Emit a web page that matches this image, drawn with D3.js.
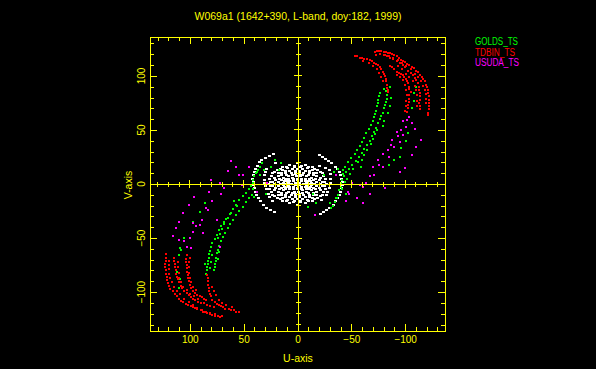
<!DOCTYPE html>
<html><head><meta charset="utf-8">
<script src="https://cdn.jsdelivr.net/npm/d3@7"></script>
<style>html,body{margin:0;padding:0;background:#000;} svg{display:block}</style>
</head><body><svg id="c" width="596" height="369"></svg>
<script>
const titleText = "W069a1 (1642+390, L-band, doy:182, 1999)";
const seriesNames = ["GOLDS_TS", "TDBIN_TS", "USUDA_TS"];
const seriesColors = ["#00ff00", "#ff0000", "#ff00ff"];
const uTicks = [100, 50, 0, -50, -100];
const vTicks = [100, 50, 0, -50, -100];
const minorTicks = [-130,-120,-110,-100,-90,-80,-70,-60,-50,-40,-30,-20,-10,0,10,20,30,40,50,60,70,80,90,100,110,120,130];

// white: short baselines near the origin
const shortBaselines = [
 [22,28],[26,26],[30,24],[33,22],[35,20],[37,17],[39,14],[40,11],[41,8],[42,5],[41,2],[41,-1],[40,-4],[39,-7],[38,-10],[36,-13],[34,-16],[32,-19],[29,-22],[25,-24],[21,-26],
 [-20,27],[-23,25],[-26,23],[-29,21],[-32,19],[-35,16],[-37,14],[-39,11],[-40,8],[-41,5],[-42,2],[-42,-1],[-41,-4],[-40,-7],[-39,-10],[-37,-13],[-35,-16],[-33,-19],[-30,-22],[-27,-24],[-24,-26],[-21,-28],
 [29,14],[30,11],[31,8],[31,4],[31,1],[30,-2],[29,-5],[27,-9],[26,-12],[23,-16],[-30,13],[-31,9],[-31,5],[-31,1],[-30,-4],[-28,-7],[-27,-10],[-22,-15],[20,19],[-20,17],[-26,15],
 [27,0],[26,5],[23,10],[19,13],[14,16],[7,18],[0,19],[-7,18],[-14,16],[-19,13],[-23,10],[-26,5],[-27,0],[-26,-5],[-23,-10],[-19,-13],[-14,-16],[-7,-18],[0,-19],[7,-18],[14,-16],[19,-13],[23,-10],[26,-5],
 [25,2],[24,7],[21,11],[16,14],[10,16],[3,17],[-4,17],[-10,16],[-16,14],[-21,11],[-24,7],[-25,2],[-25,-2],[-24,-7],[-21,-11],[-16,-14],[-10,-16],[-3,-17],[4,-17],[10,-16],[16,-14],[21,-11],[24,-7],[25,-2],
 [23,2],[21,6],[18,10],[14,13],[9,15],[3,16],[-3,16],[-9,15],[-14,13],[-18,10],[-21,6],[-23,2],[-23,-2],[-21,-6],[-18,-10],[-14,-13],[-9,-15],[-3,-16],[3,-16],[9,-15],[14,-13],[18,-10],[21,-6],[23,-2],
 [21,0],[20,4],[18,7],[15,10],[11,12],[5,14],[0,14],[-5,14],[-11,12],[-15,10],[-18,7],[-20,4],[-21,0],[-20,-4],[-18,-7],[-15,-10],[-11,-12],[-5,-14],[0,-14],[5,-14],[11,-12],[15,-10],[18,-7],[20,-4],
 [18,2],[17,5],[15,8],[11,10],[7,12],[2,12],[-2,12],[-7,12],[-11,10],[-15,8],[-17,5],[-18,2],[-18,-2],[-17,-5],[-15,-8],[-11,-10],[-7,-12],[-2,-12],[2,-12],[7,-12],[11,-10],[15,-8],[17,-5],[18,-2],
 [16,0],[15,4],[13,6],[10,8],[6,10],[2,11],[-2,11],[-6,10],[-10,8],[-13,6],[-15,4],[-16,0],[-15,-4],[-13,-6],[-10,-8],[-6,-10],[-2,-11],[2,-11],[6,-10],[10,-8],[13,-6],[15,-4],
 [13,1],[12,3],[11,5],[8,7],[5,8],[2,9],[-2,9],[-5,8],[-8,7],[-11,5],[-12,3],[-13,1],[-13,-1],[-12,-3],[-11,-5],[-8,-7],[-5,-8],[-2,-9],[2,-9],[5,-8],[8,-7],[11,-5],[12,-3],[13,-1],
 [11,0],[10,3],[8,5],[5,6],[1,7],[-3,7],[-7,5],[-10,3],[-11,0],[-10,-3],[-8,-5],[-5,-6],[-1,-7],[3,-7],[7,-5],[10,-3],
 [8,1],[7,3],[4,5],[0,5],[-4,5],[-7,3],[-8,1],[-8,-1],[-7,-3],[-4,-5],[0,-5],[4,-5],[7,-3],[8,-1],
 [6,0],[4,3],[0,4],[-4,3],[-6,0],[-4,-3],[0,-4],[4,-3],[2,1],[-2,1],[-2,-1],[2,-1]
];

const golds = [
 [-84,85],[-83,82],[-83,79],[-82,76],[-81,73],[-80,70],[-79,66],[-78,63],[-77,60],[-75,56],[-73,52],[-71,48],[-69,44],[-67,40],[-65,36],[-62,32],[-60,29],[-57,25],[-54,21],[-51,18],[-48,14],[-45,11],[-43,7],[-41,4],[-40,1],[-40,-3],[-39,-6],[-38,-10],[-37,-13],[-35,-17],[-33,-20],
 [-77,84],[-76,81],[-75,78],[-75,75],[-74,72],[-73,68],[-72,65],[-71,62],[-70,58],[-68,55],[-66,51],[-64,47],[-62,43],[-60,39],[-58,35],[-55,31],[-53,28],[-50,24],[-47,20],[-44,16],[-42,13],
 [-87,80],[-86,72],[-84,66],[-80,58],[-79,54],[-80,88],[-86,90],[-82,86],
 [-62,27],[-59,16],[-56,20],[-60,22],[-65,31],[-68,37],[-70,42],[-72,46],[-74,50],[-52,14],[-49,9],[-46,5],
 [-110,96],[-110,90],[-108,84],[-108,77],[-106,70],[-103,47],[-101,40],[-96,33],[-95,25],[-85,18],[-90,22],
 [-25,8],[-34,11],[-44,2],[-41,-5],[-36,-13],[-31,-22],[-45,-9],[-14,-9],[-17,-18],[-10,-21],[-38,14],[-42,9],[-30,-18],
 [84,-80],[84,-77],[83,-74],[83,-71],[82,-68],[82,-65],[81,-62],[80,-58],[79,-55],[77,-51],[75,-47],[73,-43],[71,-39],[68,-35],[66,-32],[63,-28],[60,-23],[57,-19],[54,-15],[51,-11],[48,-8],[45,-5],[43,-2],[41,1],[41,4],[40,7],[39,10],[37,13],[35,16],[33,19],
 [78,-80],[77,-77],[77,-74],[76,-71],[76,-68],[75,-64],[74,-61],[73,-57],[71,-53],[69,-49],[67,-45],[65,-41],[63,-37],[60,-33],[57,-29],[54,-25],[51,-21],[48,-17],[45,-13],[42,-10],
 [62,-27],[59,-16],[56,-20],[65,-31],[68,-37],[70,-42],[72,-46],[74,-50],[72,-58],[73,-63],[80,-72],[79,-66],[81,-78],[74,-69],[86,-74],[85,-83],
 [86,-18],[91,-26],[97,-35],[105,-50],[109,-59],[110,-66],[108,-61],[112,-81],[110,-96],[109,-88],
 [15,19],[21,22],[17,13],[31,13],[35,8],[41,-5],[40,-12],[29,-9],[25,16],[38,11]
];

const tdbin = [
 [-72,122],[-74,123],[-76,123],[-78,123],[-80,122],[-82,122],[-84,121],[-86,121],[-88,120],[-90,119],[-92,118],[-94,117],[-96,115],[-98,114],[-100,113],[-102,111],[-104,110],[-106,108],[-108,107],[-110,105],[-112,104],[-114,101],[-116,99],[-117,97],[-118,95],[-119,92],[-120,90],[-121,87],[-121,84],[-122,81],[-122,78],[-122,75],[-122,72],[-122,69],[-121,66],[-121,64],
 [-73,119],[-77,120],[-81,119],[-85,118],[-89,117],[-93,115],[-97,112],[-101,109],[-105,106],[-109,102],[-112,99],[-115,95],[-117,91],[-118,87],[-119,83],[-119,79],[-119,75],
 [-114,69],[-114,72],[-113,75],[-114,78],[-114,81],[-114,84],[-113,87],[-113,90],[-112,93],[-110,96],[-109,98],[-107,101],[-105,103],[-103,105],[-100,108],[-98,110],[-95,112],[-92,114],[-89,116],[-86,117],[-83,118],[-80,119],
 [-111,72],[-111,77],[-111,82],[-110,87],[-109,91],[-107,95],[-104,99],[-101,102],[-97,106],[-93,109],
 [-86,109],[-88,108],[-90,106],[-92,104],[-94,103],[-96,102],[-98,101],[-99,99],[-101,97],[-102,95],[-103,93],[-104,90],[-104,88],[-105,85],[-104,82],[-104,79],[-104,76],[-103,73],[-103,70],[-102,67],
 [-100,68],[-101,72],[-101,77],[-102,82],[-101,87],[-100,92],[-98,96],[-95,99],[-92,101],
 [-53,118],[-55,118],[-58,117],[-60,117],[-62,116],[-65,116],[-67,115],[-69,114],[-71,112],[-73,111],[-75,110],[-77,108],[-78,106],[-79,104],[-80,102],[-81,100],[-82,97],[-82,95],[-83,92],[-83,89],[-84,87],[-84,85],
 [-61,114],[-66,112],[-70,109],[-74,106],[-76,103],[-78,99],[-79,95],
 [122,-65],[122,-68],[122,-71],[123,-74],[123,-77],[122,-80],[122,-83],[121,-86],[121,-89],[120,-92],[119,-94],[118,-97],[116,-99],[114,-102],[112,-104],[110,-106],[108,-108],[106,-109],[104,-111],[102,-112],[99,-113],[97,-114],[95,-115],[93,-116],[90,-117],[88,-118],[86,-118],[84,-119],[81,-120],[79,-121],[77,-122],[74,-122],[72,-123],[70,-122],
 [119,-71],[119,-75],[119,-79],[119,-83],[118,-87],[117,-91],[115,-95],[112,-99],[109,-102],[105,-106],[101,-109],[97,-112],[93,-115],[89,-117],[85,-118],[81,-119],[77,-120],
 [115,-68],[115,-71],[114,-74],[114,-77],[113,-80],[113,-83],[112,-86],[111,-88],[110,-91],[108,-94],[107,-96],[105,-99],[103,-101],[101,-103],[99,-105],[97,-106],[95,-107],[92,-109],[90,-110],[87,-110],[84,-112],[81,-113],[78,-114],
 [111,-72],[111,-77],[110,-82],[110,-87],[108,-91],[106,-95],[103,-98],[100,-102],[96,-104],[92,-106],
 [103,-66],[104,-69],[104,-72],[103,-75],[103,-78],[103,-81],[102,-84],[102,-87],[101,-90],[100,-93],[99,-96],[97,-99],[95,-101],[93,-103],[91,-104],[89,-105],[87,-106],[85,-107],
 [100,-68],[101,-72],[101,-77],[101,-82],[100,-87],[99,-91],[97,-95],[94,-98],
 [84,-84],[83,-87],[83,-90],[83,-93],[82,-96],[82,-99],[81,-102],[80,-104],[79,-107],[77,-109],[75,-111],[73,-112],[71,-113],[69,-114],[67,-116],[64,-116],[62,-117],[59,-117],[57,-118],[54,-118],
 [79,-95],[78,-99],[76,-103],[73,-107],[70,-110],[66,-112],[61,-114]
];

const usuda = [
 [-98,58],[-102,59],[-106,56],[-109,51],[-101,53],[-96,50],[-98,45],[-115,41],[-93,44],[-88,41],[-95,39],[-90,34],[-84,31],[-79,28],[-85,25],[-76,18],[-79,16],[-70,16],[-71,8],[-67,7],[-64,1],[-58,-1],[-48,-9],[-45,-16],[-67,-9],[-81,-4],[-110,34],[-106,27],[-95,11],[-61,-3],[-51,1],[-47,-7],[-61,-18],[-104,62],[-92,48],[-87,36],[-75,22],[-100,15],[-36,8],[-16,-29],[-55,-13],
 [62,21],[57,16],[54,8],[45,16],[51,8],[71,-9],[80,4],[72,1],[79,-16],[83,-24],[85,-22],[91,-38],[94,-39],[97,-44],[105,-53],[116,-48],[106,-27],[103,-58],[99,-59],[100,-50],[110,-52],[89,-33],[82,-7],[68,-4],[52,-1],[97,-36],[75,-33],[72,-58],[113,-41],[110,-35],[101,-19],[96,-12],[38,-7],[28,1],[65,12],[88,-45]
];

const svg = d3.select("#c");
svg.append("rect").attr("width", 596).attr("height", 369).attr("fill", "#000");

const x = d3.scaleLinear().domain([137, -137]).range([150, 445]);
const y = d3.scaleLinear().domain([136, -136]).range([37, 331]);
const yellow = "#ffff00";
const font = "'Liberation Sans', Arial, sans-serif";

// data points
const layers = [
  {pts: shortBaselines, color: "#ffffff", w: 3, h: 2},
  {pts: golds, color: seriesColors[0], w: 2, h: 2},
  {pts: tdbin, color: seriesColors[1], w: 2, h: 2},
  {pts: usuda, color: seriesColors[2], w: 2, h: 2}
];
layers.forEach(L => {
  svg.append("g").selectAll("rect").data(L.pts).join("rect")
    .attr("x", d => Math.round(x(d[0]) - L.w / 2))
    .attr("y", d => Math.round(y(d[1]) - L.h / 2))
    .attr("width", L.w).attr("height", L.h)
    .attr("fill", L.color).attr("shape-rendering", "crispEdges");
});

// axes with inward ticks
const isMajor = t => t % 50 === 0;
const minorOnly = minorTicks.filter(t => !isMajor(t));
const majorOnly = minorTicks.filter(isMajor);
function addAxis(gen, tx, ty, ticks, len) {
  const g = svg.append("g").attr("transform", `translate(${tx},${ty})`)
    .call(gen.tickValues(ticks).tickSizeInner(-len).tickSizeOuter(0).tickFormat(""));
  g.select(".domain").remove();
  g.selectAll("line").attr("stroke", yellow).attr("shape-rendering", "crispEdges");
}
addAxis(d3.axisBottom(x), 0, 331, minorOnly, 4);
addAxis(d3.axisBottom(x), 0, 331, majorOnly, 7);
addAxis(d3.axisTop(x), 0, 37, minorOnly, 4);
addAxis(d3.axisTop(x), 0, 37, majorOnly, 7);
addAxis(d3.axisLeft(y), 150, 0, minorOnly, 4);
addAxis(d3.axisLeft(y), 150, 0, majorOnly, 7);
addAxis(d3.axisRight(y), 445, 0, minorOnly, 4);
addAxis(d3.axisRight(y), 445, 0, majorOnly, 7);

// frame
svg.append("rect").attr("x", 150).attr("y", 37).attr("width", 295).attr("height", 294)
  .attr("fill", "none").attr("stroke", yellow).attr("shape-rendering", "crispEdges");

// centre cross
const x0 = Math.round(x(0)), y0 = Math.round(y(0));
svg.append("line").attr("x1", 150).attr("x2", 445).attr("y1", y0).attr("y2", y0)
  .attr("stroke", yellow).attr("shape-rendering", "crispEdges");
svg.append("line").attr("x1", x0).attr("x2", x0).attr("y1", 37).attr("y2", 331)
  .attr("stroke", yellow).attr("shape-rendering", "crispEdges");
const cross = svg.append("g").attr("stroke", yellow).attr("shape-rendering", "crispEdges");
minorTicks.forEach(t => {
  const l = isMajor(t) ? 4 : 2.5;
  cross.append("line").attr("x1", x(t)).attr("x2", x(t)).attr("y1", y0 - l).attr("y2", y0 + l);
  cross.append("line").attr("y1", y(t)).attr("y2", y(t)).attr("x1", x0 - l).attr("x2", x0 + l);
});

// tick labels
const xl = svg.append("g").attr("transform", "translate(0,331)")
  .call(d3.axisBottom(x).tickValues(uTicks).tickSize(0).tickPadding(5));
xl.select(".domain").remove();
xl.selectAll("text").attr("fill", yellow).attr("font-family", font).attr("font-size", 10);

svg.append("g").selectAll("text").data(vTicks).join("text")
  .attr("transform", d => `translate(145,${y(d)}) rotate(-90)`)
  .attr("text-anchor", "middle").attr("fill", yellow)
  .attr("font-family", font).attr("font-size", 10)
  .text(d => d3.format("d")(d));

// titles
svg.append("text").attr("x", 298).attr("y", 20).attr("text-anchor", "middle")
  .attr("fill", yellow).attr("font-family", font).attr("font-size", 10.5).text(titleText);
svg.append("text").attr("x", 298).attr("y", 361.5).attr("text-anchor", "middle")
  .attr("fill", yellow).attr("font-family", font).attr("font-size", 10.5).text("U-axis");
svg.append("text").attr("transform", "translate(131.5,185) rotate(-90)").attr("text-anchor", "middle")
  .attr("fill", yellow).attr("font-family", font).attr("font-size", 10.5).text("V-axis");

// legend
const legendW = [43, 40, 44];
svg.append("g").selectAll("text").data(seriesNames).join("text")
  .attr("x", 475).attr("y", (d, i) => 45 + i * 10.5)
  .attr("fill", (d, i) => seriesColors[i])
  .attr("font-family", font).attr("font-size", 10)
  .attr("textLength", (d, i) => legendW[i]).attr("lengthAdjust", "spacingAndGlyphs")
  .text(d => d);
</script>
</body></html>
